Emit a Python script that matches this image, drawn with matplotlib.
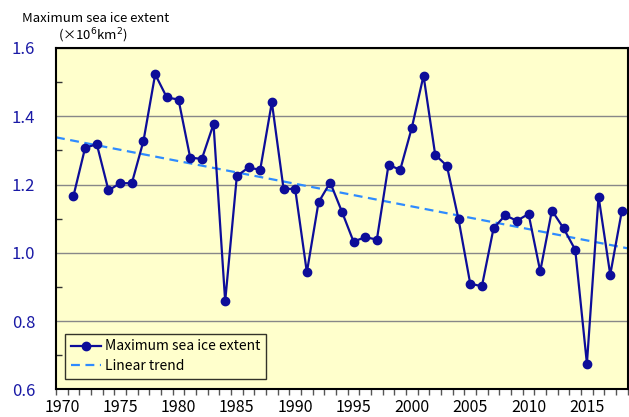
import numpy as np
import matplotlib
matplotlib.use("Agg")
import matplotlib.pyplot as plt
from matplotlib.ticker import MultipleLocator

plt.rcParams['font.family'] = ['Noto Sans CJK JP', 'DejaVu Sans']

# data
years = list(range(1971, 2019))
extent = [1.167, 1.308, 1.318, 1.183, 1.204, 1.204, 1.328, 1.523, 1.455, 1.449,
          1.279, 1.275, 1.377, 0.858, 1.225, 1.250, 1.243, 1.441, 1.188, 1.187,
          0.943, 1.148, 1.206, 1.121, 1.033, 1.046, 1.039, 1.258, 1.243, 1.367,
          1.519, 1.287, 1.255, 1.098, 0.910, 0.902, 1.072, 1.110, 1.094, 1.114,
          0.946, 1.124, 1.072, 1.009, 0.676, 1.165, 0.936, 1.124]
xlabels = [1970, 1975, 1980, 1985, 1990, 1995, 2000, 2005, 2010, 2015]

# linear trend from the data
coef = np.polyfit(years, extent, 1)
trend_x = np.array([1969.5, 2018.5])
trend_y = np.polyval(coef, trend_x)

fig = plt.figure(figsize=(6.29, 4.17), dpi=100)
ax = fig.add_axes([0.089, 0.066, 0.909, 0.819])
ax.set_facecolor('#FFFFCC')

ax.plot(years, extent, color='#0D0D99', lw=1.6, marker='o', ms=6,
        label='Maximum sea ice extent', zorder=3)
ax.plot(trend_x, trend_y, color='#2E8BFF', lw=1.6, ls=(0, (4, 2.5)),
        label='Linear trend', zorder=2)

ax.set_xlim(1969.5, 2018.5)
ax.set_ylim(0.6, 1.6)

# y axis
yt = [0.6, 0.8, 1.0, 1.2, 1.4, 1.6]
ax.set_yticks(yt)
ax.set_yticklabels([f'{v:.1f}' for v in yt])
ax.yaxis.set_minor_locator(MultipleLocator(0.1))
ax.tick_params(axis='y', which='major', direction='in', length=0,
               pad=15, labelsize=12, labelcolor='#1A1AA6')
ax.tick_params(axis='y', which='minor', direction='in', length=4, width=1,
               color='#333333')
ax.grid(axis='y', which='major', color='#888888', lw=1)

# x axis: labels centred on years, ticks at year boundaries
ax.set_xticks(xlabels)
ax.set_xticklabels([str(v) for v in xlabels])
ax.set_xticks(np.arange(1969.5, 2019, 1), minor=True)
ax.tick_params(axis='x', which='major', length=0, labelsize=11.5, pad=7)
ax.tick_params(axis='x', which='minor', direction='out', length=4, width=1,
               color='#555555')

for s in ax.spines.values():
    s.set_linewidth(1.5)
    s.set_color('black')

leg = ax.legend(loc='lower left', bbox_to_anchor=(0.016, 0.032), fontsize=10,
                frameon=True, fancybox=False, facecolor='none', edgecolor='black',
                handlelength=2.2, handletextpad=0.3, borderpad=0.4,
                labelspacing=0.4, borderaxespad=0)
leg.get_frame().set_linewidth(1)
leg._legend_box.set_width(190)

fig.text(0.035, 0.955, 'Maximum sea ice extent', fontsize=9.5, va='center')
fig.text(0.092, 0.915, '(×10$^6$km$^2$)', fontsize=9.5, va='center')

fig.savefig('out.png', dpi=100)
